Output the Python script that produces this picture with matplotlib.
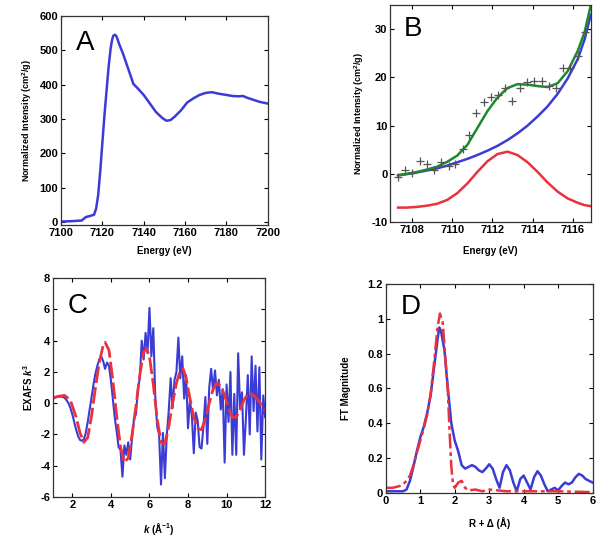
import matplotlib
matplotlib.use("Agg")
import matplotlib.pyplot as plt

plt.rcParams["font.family"] = ["Liberation Sans", "DejaVu Sans"]
plt.rcParams["font.weight"] = "bold"
plt.rcParams["axes.unicode_minus"] = False
plt.rcParams["mathtext.fontset"] = "custom"
plt.rcParams["mathtext.rm"] = "Liberation Sans:bold"
plt.rcParams["mathtext.it"] = "Liberation Sans:italic:bold"
plt.rcParams["mathtext.bf"] = "Liberation Sans:bold"

BLUE = "#3b3bd6"
RED = "#e8333c"
GREEN = "#1f8a2a"

# --- Panel A: XANES edge ---
a_energy = [7100, 7105, 7110, 7112, 7114, 7116, 7117, 7118, 7119, 7120, 7121,
            7122, 7123, 7124, 7124.7, 7125.3, 7126, 7126.7, 7127.3, 7128, 7130,
            7132, 7134, 7135, 7137, 7140, 7143, 7146, 7149, 7151, 7153, 7155,
            7158, 7161, 7164, 7167, 7170, 7173, 7176, 7180, 7183, 7186, 7188,
            7190, 7193, 7196, 7200]
a_intensity = [2, 3, 5, 15, 18, 22, 40, 80, 150, 230, 310,
               380, 450, 505, 530, 542, 545, 542, 533, 520, 490,
               455, 420, 402, 390, 370, 345, 320, 303, 295, 297, 307,
               325, 348, 360, 370, 376, 378, 374, 370, 367, 366, 367,
               362, 356, 350, 345]

# --- Panel B: pre-edge fit ---
b_pts_e = [7107.28, 7107.65, 7108.0, 7108.37, 7108.73, 7109.08, 7109.45, 7109.82,
           7110.15, 7110.55, 7110.83, 7111.2, 7111.58, 7111.92, 7112.28, 7112.65,
           7113.0, 7113.37, 7113.73, 7114.08, 7114.45, 7114.82, 7115.17, 7115.53,
           7115.88, 7116.25, 7116.62]
b_pts_i = [-0.7, 0.7, 0.1, 2.6, 2.1, 0.8, 2.5, 1.6,
           2.1, 5.2, 8.0, 12.6, 14.8, 16.0, 16.3, 17.9,
           15.1, 17.9, 19.0, 19.3, 19.2, 18.2, 17.9, 21.9,
           21.9, 24.4, 29.4]
b_fit_e = [7107.3, 7107.75, 7108.25, 7108.75, 7109.25, 7109.75, 7110.25, 7110.75,
           7111.25, 7111.75, 7112.25, 7112.75, 7113.25, 7113.75, 7114.25, 7114.75,
           7115.25, 7115.75, 7116.25, 7116.6, 7116.9]
b_total = [-0.3, 0.0, 0.4, 0.9, 1.5, 2.5, 3.8, 6.0,
           9.5, 13.0, 15.8, 17.8, 18.6, 18.5, 18.2, 18.0,
           18.8, 21.3, 25.5, 29.5, 35.0]
b_baseline = [-0.3, -0.05, 0.3, 0.7, 1.15, 1.7, 2.4, 3.1,
              3.9, 4.8, 5.8, 7.0, 8.4, 10.0, 11.9, 14.0,
              16.6, 19.8, 23.8, 28.0, 33.0]
b_peak = [-7.0, -7.0, -6.85, -6.6, -6.2, -5.4, -4.0, -2.0,
          0.4, 2.6, 4.1, 4.6, 3.9, 2.4, 0.4, -1.8,
          -3.7, -5.1, -6.0, -6.5, -6.7]

# --- Panel C: EXAFS ---
c_k = [round(1.0 + 0.1 * i, 1) for i in range(111)]
c_data = [0.3, 0.35, 0.4, 0.42, 0.42, 0.4, 0.35, 0.2, 0.0, -0.3,
          -0.7, -1.2, -1.7, -2.1, -2.35, -2.4, -2.3, -1.9, -1.2, -0.4,
          0.4, 1.2, 1.9, 2.4, 2.8, 3.0, 2.7, 2.2, 2.6, 2.4,
          1.5, 0.3, -0.9, -1.8, -2.8, -3.0, -4.7, -2.7, -3.3, -2.5,
          -3.6, -2.2, -1.0, -0.7, 0.9, 1.6, 4.0, 2.8, 4.5, 3.2,
          6.1, 3.0, 4.8, 0.5, -1.5, -2.0, -5.2, -1.9, -4.8, -2.0,
          -0.5, 1.6, -0.3, 1.5, 2.0, 4.2, 1.6, 3.0, 0.3, 1.8,
          -1.6, 0.2, -0.8, -3.2, -0.6, -1.1, -2.8, -2.9, -1.5, 0.4,
          -2.6, 1.0, 2.2, 0.8, 2.1, 0.5, 1.5, -0.4, 0.9, -3.8,
          1.2, -1.2, 2.0, -3.3, 0.6, -3.3, 3.2, -0.3, 0.7, -3.3,
          -1.0, 1.8, -2.0, 3.0, -0.5, 2.4, -1.8, 2.3, -3.6, 0.5, -0.9]
c_fit_k = [1.0, 1.3, 1.6, 1.9, 2.2, 2.4, 2.6, 2.8, 3.0, 3.2, 3.4, 3.6, 3.7, 3.9,
           4.1, 4.3, 4.5, 4.7, 4.9, 5.1, 5.3, 5.5, 5.7, 5.85, 6.0, 6.2, 6.4,
           6.6, 6.8, 7.0, 7.2, 7.4, 7.6, 7.75, 7.9, 8.1, 8.3, 8.5, 8.7, 8.9,
           9.1, 9.3, 9.5, 9.7, 9.9, 10.1, 10.3, 10.5, 10.7, 10.9, 11.1, 11.3,
           11.5, 11.7, 11.9, 12.0]
c_fit = [0.35, 0.45, 0.5, 0.2, -0.9, -1.9, -2.5, -2.2, -0.8, 1.0, 2.6, 3.7, 3.9, 3.4,
         1.5, -0.8, -2.8, -3.8, -3.5, -2.0, -0.2, 1.8, 3.3, 3.5, 3.0, 1.2, -1.0,
         -2.5, -2.6, -1.5, 0.0, 1.3, 2.1, 2.2, 1.6, 0.3, -0.9, -1.6, -1.7, -1.0,
         0.0, 0.9, 1.3, 1.1, 0.5, -0.3, -0.9, -0.9, -0.4, 0.2, 0.6, 0.6,
         0.4, 0.1, -0.3, -0.5]

# --- Panel D: Fourier transform ---
d_r = [0.0, 0.5, 0.6, 0.7, 0.8, 0.9, 1.0, 1.1, 1.2, 1.3, 1.4, 1.5, 1.55, 1.6, 1.7,
       1.8, 1.9, 2.0, 2.1, 2.2, 2.3, 2.4, 2.5, 2.6, 2.7, 2.8, 2.9, 3.0, 3.1, 3.2,
       3.3, 3.4, 3.5, 3.6, 3.7, 3.8, 3.9, 4.0, 4.1, 4.2, 4.3, 4.4, 4.5, 4.6, 4.7,
       4.8, 4.9, 5.0, 5.1, 5.2, 5.3, 5.4, 5.5, 5.6, 5.7, 5.8, 5.9, 6.0]
d_data = [0.01, 0.01, 0.02, 0.07, 0.15, 0.24, 0.32, 0.38, 0.46, 0.56, 0.72, 0.88, 0.95, 0.93, 0.82,
          0.6, 0.4, 0.3, 0.24, 0.16, 0.14, 0.15, 0.16, 0.15, 0.13, 0.12, 0.14, 0.165, 0.14, 0.08,
          0.03, 0.12, 0.16, 0.13, 0.06, 0.01, 0.08, 0.1, 0.06, 0.02, 0.09, 0.125, 0.1, 0.05, 0.01,
          0.02, 0.03, 0.015, 0.04, 0.06, 0.05, 0.06, 0.09, 0.11, 0.1, 0.08, 0.07, 0.06]
d_fit_r = [0.0, 0.2, 0.4, 0.5, 0.6, 0.7, 0.8, 0.9, 1.0, 1.1, 1.2, 1.3, 1.4, 1.5, 1.57,
           1.65, 1.7, 1.8, 1.85, 1.9, 1.95, 2.0, 2.1, 2.2, 2.3, 2.4, 2.6, 2.8, 3.0,
           3.5, 4.0, 5.0, 6.0]
d_fit = [0.03, 0.03, 0.04, 0.05, 0.07, 0.1, 0.16, 0.23, 0.3, 0.37, 0.45, 0.57, 0.75, 0.95, 1.03,
         0.98, 0.85, 0.58, 0.35, 0.15, 0.05, 0.03, 0.06, 0.07, 0.03, 0.015, 0.02, 0.01, 0.02,
         0.01, 0.01, 0.01, 0.005]


def style(ax):
    ax.tick_params(direction="in", top=True, right=True, labelsize=8, length=3,
                   width=0.8, pad=2)
    for s in ax.spines.values():
        s.set_linewidth(0.9)
        s.set_color("#333333")
    for lab in ax.get_xticklabels() + ax.get_yticklabels():
        lab.set_fontweight("bold")


fig = plt.figure(figsize=(6.01, 5.39), dpi=100)

axA = fig.add_axes([0.1015, 0.5826, 0.344, 0.388])
axA.plot(a_energy, a_intensity, color=BLUE, lw=1.8)
axA.set_xlim(7100, 7200)
axA.set_ylim(-8, 600)
axA.set_xticks(range(7100, 7201, 20))
axA.set_yticks(range(0, 601, 100))
axA.set_xlabel("Energy (eV)", fontsize=7, fontweight="bold", labelpad=6)
axA.set_ylabel("Normalized Intensity (cm$^2$/g)", fontsize=6.5, fontweight="bold")
axA.text(0.07, 0.93, "A", transform=axA.transAxes, fontsize=20, va="top",
         fontweight="normal")
style(axA)

axB = fig.add_axes([0.649, 0.588, 0.334, 0.4026])
axB.plot(b_fit_e, b_peak, color=RED, lw=1.8)
axB.plot(b_fit_e, b_baseline, color=BLUE, lw=1.8)
axB.plot(b_fit_e, b_total, color=GREEN, lw=1.8)
axB.plot(b_pts_e, b_pts_i, "+", color="#555555", ms=6, mew=0.9)
axB.set_xlim(7106.9, 7116.9)
axB.set_ylim(-10, 35)
axB.set_xticks(range(7108, 7117, 2))
axB.set_yticks(range(-10, 31, 10))
axB.set_xlabel("Energy (eV)", fontsize=7, fontweight="bold", labelpad=8)
axB.set_ylabel("Normalized Intensity (cm$^2$/g)", fontsize=6.5, fontweight="bold")
axB.text(0.07, 0.95, "B", transform=axB.transAxes, fontsize=20, va="top",
         fontweight="normal")
style(axB)

axC = fig.add_axes([0.0882, 0.0779, 0.353, 0.406])
axC.plot(c_k, c_data, color=BLUE, lw=1.5)
axC.plot(c_fit_k, c_fit, color=RED, lw=2.0, ls=(0, (6, 1.5)))
axC.set_xlim(1, 12)
axC.set_ylim(-6, 8)
axC.set_xticks(range(2, 13, 2))
axC.set_yticks(range(-6, 9, 2))
axC.set_xlabel(r"$k$ (Å$^{-1}$)", fontsize=7, fontweight="bold", labelpad=8)
axC.set_ylabel(r"EXAFS $k^3$", fontsize=7, fontweight="bold")
axC.text(0.07, 0.93, "C", transform=axC.transAxes, fontsize=20, va="top",
         fontweight="normal")
style(axC)

axD = fig.add_axes([0.642, 0.0853, 0.344, 0.388])
axD.plot(d_r, d_data, color=BLUE, lw=1.8)
axD.plot(d_fit_r, d_fit, color=RED, lw=1.8, ls=(0, (6, 1.5, 1.5, 1.5)))
axD.set_xlim(0, 6)
axD.set_ylim(0, 1.2)
axD.set_xticks(range(0, 7))
axD.set_yticks([0, 0.2, 0.4, 0.6, 0.8, 1, 1.2])
axD.set_yticklabels(["0", "0.2", "0.4", "0.6", "0.8", "1", "1.2"])
axD.set_xlabel("R + Δ (Å)", fontsize=7, fontweight="bold", labelpad=8)
axD.set_ylabel("FT Magnitude", fontsize=7, fontweight="bold", labelpad=12)
axD.text(0.07, 0.95, "D", transform=axD.transAxes, fontsize=20, va="top",
         fontweight="normal")
style(axD)

fig.savefig("out.png", dpi=100)
